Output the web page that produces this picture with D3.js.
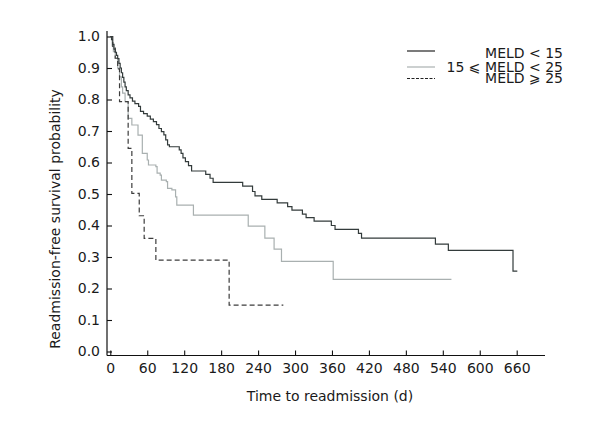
<!DOCTYPE html>
<html><head><meta charset="utf-8">
<script src="https://cdn.jsdelivr.net/npm/d3@7"></script>
<style>
body{margin:0;background:#fff;}
svg text{font-family:"DejaVu Sans",Verdana,sans-serif;fill:#1a1a1a;}
</style></head>
<body><svg id="c" width="604" height="423"></svg>
<script>
// Kaplan-Meier step data: [day, survival after event]
const meldLow = [[0,1.0],[2,0.99],[4,0.975],[6,0.96],[8,0.95],[10,0.94],[12,0.93],[14,0.915],[16,0.90],[18,0.885],[20,0.87],[22,0.855],[24,0.84],[26,0.828],[29,0.815],[32,0.805],[36,0.795],[40,0.787],[46,0.778],[49,0.762],[54,0.755],[60,0.747],[65,0.738],[70,0.73],[75,0.72],[79,0.708],[83,0.698],[87,0.688],[90,0.672],[93,0.656],[96,0.65],[112,0.64],[115,0.629],[118,0.615],[122,0.603],[127,0.59],[132,0.573],[155,0.562],[162,0.55],[167,0.537],[215,0.525],[231,0.508],[235,0.494],[246,0.483],[271,0.472],[288,0.46],[295,0.449],[312,0.436],[318,0.425],[331,0.414],[359,0.40],[365,0.388],[403,0.375],[408,0.36],[528,0.341],[549,0.321],[654,0.255],[661,0.255]];
const meldMid = [[0,1.0],[3,0.97],[5,0.952],[8,0.931],[12,0.90],[15,0.872],[18,0.84],[20,0.82],[24,0.793],[29,0.74],[35,0.719],[45,0.687],[52,0.629],[60,0.608],[62,0.592],[74,0.587],[76,0.566],[81,0.56],[83,0.544],[91,0.539],[93,0.518],[100,0.513],[106,0.491],[108,0.465],[135,0.433],[224,0.398],[251,0.36],[266,0.325],[278,0.286],[362,0.229],[554,0.229]];
const meldHigh = [[0,1.0],[4,0.966],[8,0.931],[12,0.897],[15,0.793],[29,0.645],[35,0.502],[47,0.431],[55,0.359],[74,0.290],[193,0.147],[281,0.147]];
const xTicks = [0,60,120,180,240,300,360,420,480,540,600,660];
const yTicks = [0,0.1,0.2,0.3,0.4,0.5,0.6,0.7,0.8,0.9,1.0];
const legendLabels = ["MELD < 15","15 \u2A7D MELD < 25","MELD \u2A7E 25"];

const svg = d3.select("#c");
const x = d3.scaleLinear().domain([0,660]).range([110.3,516.7]);
const y = d3.scaleLinear().domain([0,1]).range([351.5,36.5]);
const axisY = 355.5, axisX = 107;

// axis lines
svg.append("line").attr("x1",axisX).attr("x2",545).attr("y1",axisY).attr("y2",axisY).attr("stroke","#111").attr("stroke-width",1.2);
svg.append("line").attr("x1",axisX).attr("x2",axisX).attr("y1",31).attr("y2",axisY).attr("stroke","#111").attr("stroke-width",1.2);

const gx = svg.append("g").attr("transform",`translate(0,${axisY})`)
  .call(d3.axisBottom(x).tickValues(xTicks).tickSize(-5).tickPadding(8).tickFormat(d3.format("d")));
gx.select(".domain").remove();
gx.selectAll("line").attr("stroke","#111").attr("stroke-width",1.1);
gx.selectAll("text").style("font-size","14px").attr("fill","#1a1a1a");

const gy = svg.append("g").attr("transform",`translate(${axisX},0)`)
  .call(d3.axisLeft(y).tickValues(yTicks).tickSize(-5).tickPadding(7).tickFormat(d3.format(".1f")));
gy.select(".domain").remove();
gy.selectAll("line").attr("stroke","#111").attr("stroke-width",1.1);
gy.selectAll("text").style("font-size","14px").attr("fill","#1a1a1a");

// titles
svg.append("text").attr("x",330).attr("y",401).attr("text-anchor","middle").style("font-size","14px").text("Time to readmission (d)");
svg.append("text").attr("transform","translate(60,219) rotate(-90)").attr("text-anchor","middle").style("font-size","14px").text("Readmission-free survival probability");

const line = d3.line().x(d=>x(d[0])).y(d=>y(d[1])).curve(d3.curveStepAfter);
const series = [
  {data:meldMid, color:"#a9b0b0", dash:null},
  {data:meldHigh, color:"#3c3c3c", dash:"5,3"},
  {data:meldLow, color:"#333b3b", dash:null}
];
series.forEach(s=>{
  svg.append("path").datum(s.data).attr("d",line).attr("fill","none")
    .attr("stroke",s.color).attr("stroke-width",1.2)
    .attr("stroke-dasharray",s.dash);
});

// legend
const legStyles = [
  {color:"#222", dash:null, ly:51, ty:57.5},
  {color:"#a9b0b0", dash:null, ly:67, ty:72},
  {color:"#222", dash:"3,1.5", ly:78.5, ty:82.5}
];
legendLabels.forEach((t,i)=>{
  const st = legStyles[i];
  svg.append("line").attr("x1",407).attr("x2",435).attr("y1",st.ly).attr("y2",st.ly)
    .attr("stroke",st.color).attr("stroke-width",1.2).attr("stroke-dasharray",st.dash);
  svg.append("text").attr("x",563).attr("y",st.ty).attr("text-anchor","end").style("font-size","14px").text(t);
});
</script></body></html>
